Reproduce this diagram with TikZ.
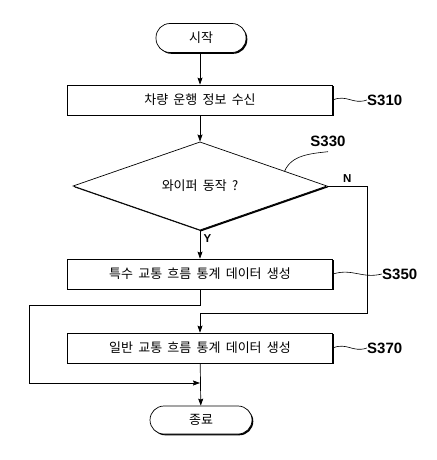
\documentclass[tikz,border=0pt]{standalone}
\usepackage{fontspec}
\setmainfont{Noto Sans CJK KR}[WordSpace=1.8]
\newfontfamily\labelfont{Liberation Sans}
\usepackage{tikz}
\usetikzlibrary{arrows.meta,positioning,shapes.geometric,shadows}

\begin{document}
\begin{tikzpicture}[x=1pt, y=-1pt, line width=0.7pt,
      boxshadow/.style={drop shadow={shadow xshift=1.3pt, shadow yshift=-1.3pt, fill=black, opacity=1}},
      stepbox/.style={draw, fill=white, boxshadow, minimum width=265pt, minimum height=30pt,
        inner sep=0pt, font=\fontsize{13}{15}\selectfont},
      term/.style={draw, fill=white, boxshadow, rounded corners=14pt, minimum width=90pt,
        minimum height=29pt, inner sep=0pt, font=\fontsize{13}{15}\selectfont},
      decision/.style={draw, fill=white, boxshadow, diamond, minimum width=254pt, minimum height=77pt,
        inner sep=0pt, font=\fontsize{13}{15}\selectfont},
      steplabel/.style={inner sep=0pt, font=\labelfont\bfseries\fontsize{15}{17}\selectfont},
      yn/.style={font=\labelfont\bfseries\fontsize{11.5}{13}\selectfont},
      >={Stealth[length=7pt, width=5pt, inset=1pt]}]
    \useasboundingbox (0,0) rectangle (436,460);

    \node[term] (start) at (201,38) {시작};
    \node[stepbox] (s310) at (200,100) {차량 운행 정보 수신};
    \node[decision] (s330) at (200,186) {와이퍼 동작 ?};
    \node[stepbox] (s350) at (200,274) {특수 교통 흐름 통계 데이터 생성};
    \node[stepbox] (s370) at (200,348) {일반 교통 흐름 통계 데이터 생성};
    \node[term, minimum width=102pt, minimum height=28pt] (stop) at (201,420) {종료};

    % step numbers
    \node[steplabel, right=34pt of s310] (l310) {S310};
    \node[steplabel] (l330) at (328,141) {S330};
    \node[steplabel, right=49pt of s350] (l350) {S350};
    \node[steplabel, right=34pt of s370] (l370) {S370};
    \draw[line width=0.6pt] (s310.east) .. controls +(14,-6) and +(-14,5) .. (l310.west);
    \draw[line width=0.6pt] (s330.10) .. controls +(7,-16) and +(-18,2) .. ([yshift=-5pt]l330.south);
    \draw[line width=0.6pt] (s350.east) .. controls +(20,-6) and +(-20,5) .. (l350.west);
    \draw[line width=0.6pt] (s370.east) .. controls +(14,-6) and +(-14,5) .. (l370.west);

    % connectors
    \coordinate (nturn) at (367,313);
    \coordinate (yturn) at (29,305);
    \coordinate (yback) at (29,383);
    \draw[->] (start.south -| s310) -- (s310);
    \draw[->] (s310) -- (s330);
    \draw[->] (s330) -- node[yn, right, pos=0.3] {Y} (s350);
    \draw[->] (s330.east) -| node[yn, above, pos=0.25] {N} (nturn) -| (s370.north);
    \draw[->] (s350.south) |- (yturn) -- (yback) -- (yback -| s370.south);
    \draw[->] (s370) -- (stop);
  \end{tikzpicture}
\end{document}
